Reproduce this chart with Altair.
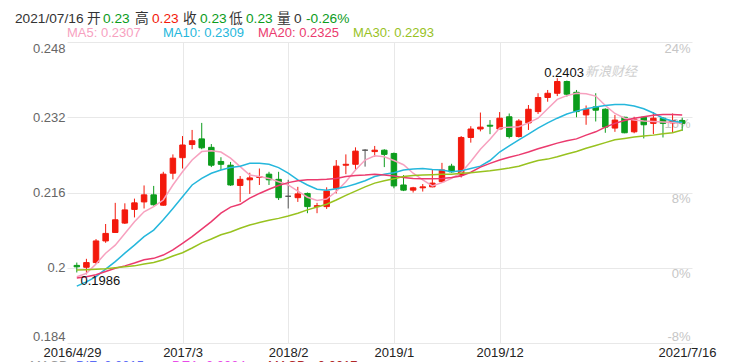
import altair as alt
import pandas as pd

# ---------------- data (monthly candles, 2016/4 .. 2021/7) ----------------
opens = [0.2005, 0.2001, 0.2011, 0.2057, 0.2075, 0.2095, 0.2124, 0.2140, 0.2155, 0.2133,
         0.2201, 0.2234, 0.2262, 0.2274, 0.2256, 0.2226, 0.2218, 0.2175, 0.2187, 0.2192,
         0.2199, 0.2188, 0.2152, 0.2149, 0.2158, 0.2130, 0.2130, 0.2169, 0.2218, 0.2220,
         0.2250, 0.2247, 0.2250, 0.2243, 0.2176, 0.2165, 0.2170, 0.2172, 0.2183, 0.2216,
         0.2197, 0.2277, 0.2295, 0.2303, 0.2295, 0.2321, 0.2279, 0.2308, 0.2332, 0.2362,
         0.2371, 0.2396, 0.2373, 0.2325, 0.2342, 0.2337, 0.2297, 0.2320, 0.2289, 0.2320,
         0.2307, 0.2318, 0.2308, 0.2313]
highs = [0.2011, 0.2019, 0.2061, 0.2093, 0.2138, 0.2137, 0.2147, 0.2175, 0.2174, 0.2204,
         0.2241, 0.2280, 0.2293, 0.2308, 0.2263, 0.2235, 0.2225, 0.2195, 0.2202, 0.2211,
         0.2204, 0.2204, 0.2187, 0.2172, 0.2160, 0.2138, 0.2171, 0.2229, 0.2241, 0.2256,
         0.2252, 0.2259, 0.2252, 0.2245, 0.2197, 0.2172, 0.2178, 0.2208, 0.2223, 0.2221,
         0.2280, 0.2301, 0.2330, 0.2314, 0.2331, 0.2328, 0.2316, 0.2346, 0.2371, 0.2378,
         0.2403, 0.2398, 0.2378, 0.2345, 0.2371, 0.2339, 0.2325, 0.2321, 0.2321, 0.2321,
         0.2331, 0.2320, 0.2328, 0.2319]
lows = [0.1990, 0.1986, 0.2008, 0.2053, 0.2075, 0.2093, 0.2107, 0.2126, 0.2132, 0.2132,
        0.2188, 0.2211, 0.2252, 0.2252, 0.2214, 0.2208, 0.2174, 0.2140, 0.2157, 0.2176,
        0.2176, 0.2144, 0.2126, 0.2140, 0.2116, 0.2116, 0.2125, 0.2158, 0.2199, 0.2208,
        0.2215, 0.2236, 0.2214, 0.2169, 0.2163, 0.2160, 0.2162, 0.2171, 0.2181, 0.2202,
        0.2192, 0.2266, 0.2290, 0.2284, 0.2295, 0.2275, 0.2277, 0.2293, 0.2327, 0.2353,
        0.2365, 0.2364, 0.2320, 0.2304, 0.2311, 0.2287, 0.2289, 0.2286, 0.2286, 0.2275,
        0.2284, 0.2277, 0.2287, 0.2291]
closes = [0.2002, 0.2011, 0.2057, 0.2073, 0.2102, 0.2123, 0.2138, 0.2155, 0.2134, 0.2199,
          0.2233, 0.2261, 0.2270, 0.2255, 0.2218, 0.2220, 0.2176, 0.2188, 0.2191, 0.2194,
          0.2187, 0.2149, 0.2152, 0.2157, 0.2130, 0.2132, 0.2163, 0.2216, 0.2220, 0.2248,
          0.2250, 0.2250, 0.2241, 0.2174, 0.2165, 0.2170, 0.2172, 0.2180, 0.2208, 0.2204,
          0.2277, 0.2295, 0.2299, 0.2301, 0.2318, 0.2279, 0.2312, 0.2337, 0.2362, 0.2371,
          0.2396, 0.2369, 0.2332, 0.2337, 0.2335, 0.2299, 0.2314, 0.2287, 0.2316, 0.2304,
          0.2318, 0.2307, 0.2313, 0.2307]
ma5 = [0.1981, 0.1988, 0.2008, 0.2031, 0.2048, 0.2073, 0.2098, 0.2119, 0.2130, 0.2144,
       0.2176, 0.2204, 0.2229, 0.2247, 0.2249, 0.2246, 0.2233, 0.2215, 0.2197, 0.2194,
       0.2190, 0.2183, 0.2176, 0.2163, 0.2150, 0.2143, 0.2146, 0.2162, 0.2183, 0.2208,
       0.2229, 0.2238, 0.2236, 0.2228, 0.2219, 0.2201, 0.2187, 0.2174, 0.2181, 0.2190,
       0.2202, 0.2226, 0.2252, 0.2273, 0.2297, 0.2299, 0.2300, 0.2308, 0.2318, 0.2338,
       0.2358, 0.2366, 0.2371, 0.2370, 0.2365, 0.2345, 0.2328, 0.2318, 0.2314, 0.2312,
       0.2311, 0.2310, 0.2309, 0.2307]
ma10 = [0.1961, 0.1970, 0.1981, 0.1997, 0.2013, 0.2031, 0.2048, 0.2066, 0.2080, 0.2102,
        0.2126, 0.2151, 0.2176, 0.2190, 0.2201, 0.2208, 0.2213, 0.2216, 0.2222, 0.2222,
        0.2220, 0.2213, 0.2201, 0.2187, 0.2176, 0.2167, 0.2165, 0.2168, 0.2172, 0.2178,
        0.2185, 0.2194, 0.2199, 0.2202, 0.2208, 0.2210, 0.2211, 0.2209, 0.2208, 0.2204,
        0.2206, 0.2211, 0.2216, 0.2228, 0.2246, 0.2259, 0.2272, 0.2284, 0.2297, 0.2308,
        0.2318, 0.2327, 0.2333, 0.2338, 0.2342, 0.2345, 0.2347, 0.2347, 0.2344, 0.2338,
        0.2329, 0.2318, 0.2312, 0.2309]
ma20 = [0.1978, 0.1981, 0.1985, 0.1992, 0.1999, 0.2004, 0.2010, 0.2017, 0.2020, 0.2027,
        0.2038, 0.2052, 0.2066, 0.2082, 0.2098, 0.2116, 0.2129, 0.2135, 0.2148, 0.2158,
        0.2167, 0.2175, 0.2181, 0.2185, 0.2187, 0.2187, 0.2188, 0.2190, 0.2194, 0.2196,
        0.2197, 0.2199, 0.2197, 0.2195, 0.2192, 0.2190, 0.2189, 0.2189, 0.2190, 0.2192,
        0.2195, 0.2203, 0.2214, 0.2222, 0.2229, 0.2235, 0.2240, 0.2246, 0.2253, 0.2259,
        0.2265, 0.2270, 0.2274, 0.2282, 0.2289, 0.2299, 0.2307, 0.2313, 0.2318, 0.2321,
        0.2324, 0.2326, 0.2326, 0.2325]
ma30 = [0.1995, 0.1996, 0.1997, 0.1998, 0.2000, 0.2002, 0.2004, 0.2008, 0.2011, 0.2017,
        0.2025, 0.2032, 0.2042, 0.2053, 0.2061, 0.2070, 0.2076, 0.2084, 0.2091, 0.2096,
        0.2101, 0.2105, 0.2110, 0.2116, 0.2123, 0.2129, 0.2135, 0.2144, 0.2154, 0.2163,
        0.2172, 0.2180, 0.2185, 0.2189, 0.2194, 0.2196, 0.2197, 0.2198, 0.2199, 0.2199,
        0.2201, 0.2202, 0.2204, 0.2206, 0.2209, 0.2212, 0.2216, 0.2222, 0.2228, 0.2231,
        0.2236, 0.2242, 0.2247, 0.2254, 0.2260, 0.2266, 0.2272, 0.2275, 0.2278, 0.2280,
        0.2282, 0.2285, 0.2287, 0.2293]

tick_idx = [0, 11, 22, 33, 44, 63]
tick_labels = ["2016/4/29", "2017/3", "2018/2", "2019/1", "2019/12", "2021/7/16"]
price_ticks = [0.184, 0.2, 0.216, 0.232, 0.248]
pct_ticks = [-8, 0, 8, 16, 24]
header_date = "2021/07/16"
volume = 0
macd_labels = ["MACD", "DIF: 0.0015", "DEA: 0.0024", "MACD: -0.0017"]
watermark = "新浪财经"

# ---------------- styles / layout ----------------
RED, GREEN, FLAT = "#f3190c", "#0c9c1c", "#555555"
MA_COLORS = {"MA5": "#f7a1bf", "MA10": "#25b7dc", "MA20": "#eb3a6e", "MA30": "#98c21f"}
FONT = "Liberation Sans, Arial, Noto Sans CJK SC"
W, H = 625, 301

n = len(closes)
df = pd.DataFrame({"idx": list(range(n)), "open": opens, "high": highs, "low": lows,
                   "close": closes, "MA5": ma5, "MA10": ma10, "MA20": ma20, "MA30": ma30})
df["lo_body"] = df[["open", "close"]].min(axis=1)
df["hi_body"] = df[["open", "close"]].max(axis=1)
df["dir"] = ["up" if c > o else ("down" if c < o else "flat") for o, c in zip(opens, closes)]

lo_edge, hi_edge = -0.5, n - 0.5
xs = alt.Scale(domain=[lo_edge, hi_edge], nice=False, zero=False)
ys = alt.Scale(domain=[price_ticks[0], price_ticks[-1]], nice=False, zero=False)
cs = alt.Scale(domain=["up", "down", "flat"], range=[RED, GREEN, FLAT])

# first / last date labels sit flush with the plot edges, as in the original
axis_vals = [lo_edge] + tick_idx[1:-1] + [hi_edge]
label_expr = " : ".join(f"datum.value == {v} ? '{t}'" for v, t in zip(axis_vals, tick_labels)) + " : ''"
x_axis = alt.Axis(values=axis_vals, labelExpr=label_expr, grid=True,
                  gridColor=alt.condition(f"datum.value == {lo_edge} || datum.value == {hi_edge}",
                                          alt.value("transparent"), alt.value("#e8e8e8")),
                  domain=False, ticks=False, labelFontSize=13, labelColor="#222", labelFont=FONT,
                  labelPadding=3, labelFlush=True, labelAngle=0,
                  labelOverlap=False, title=None)
y_axis = alt.Axis(values=price_ticks, format=".3~f", grid=True, gridColor="#e8e8e8",
                  domain=False, ticks=False, labelFontSize=13, labelColor="#666", labelFont=FONT,
                  labelPadding=2, labelFlush=True, title=None)


def X():
    return alt.X("idx:Q", scale=xs, axis=x_axis, title=None)


def Y(field):
    return alt.Y(f"{field}:Q", scale=ys, axis=y_axis, title=None)


base = alt.Chart(df)
wicks = base.mark_rule(strokeWidth=1).encode(
    x=X(), y=Y("low"), y2="high:Q",
    color=alt.Color("dir:N", scale=cs, legend=None),
)
bodies = base.mark_bar(size=5.5, strokeWidth=1).encode(
    x=X(), y=Y("lo_body"), y2="hi_body:Q",
    color=alt.Color("dir:N", scale=cs, legend=None),
    stroke=alt.Stroke("dir:N", scale=cs, legend=None),
)
ma_layers = [
    base.mark_line(color=col, strokeWidth=1.5).encode(x=X(), y=Y(name))
    for name, col in MA_COLORS.items()
]

hi_row = df.loc[[df["high"].idxmax()], ["idx", "high"]]
hi_row["t"] = hi_row["high"].map(lambda v: f"{v:.4f}")
lo_row = df.loc[[df["low"].idxmin()], ["idx", "low"]]
lo_row["t"] = lo_row["low"].map(lambda v: f"{v:.4f}")
hi_text = alt.Chart(hi_row).mark_text(align="left", baseline="alphabetic", dx=-13, dy=-1,
                                      fontSize=13, font=FONT, color="#111").encode(
    x=X(), y=Y("high"), text="t:N")
lo_text = alt.Chart(lo_row).mark_text(align="left", baseline="alphabetic", dx=-6, dy=11,
                                      fontSize=13, font=FONT, color="#111").encode(
    x=X(), y=Y("low"), text="t:N")

wm = alt.Chart(pd.DataFrame({"t": [watermark]})).mark_text(
    align="left", baseline="middle", fontSize=13, font=FONT, fontStyle="italic",
    color="#cfcfcf").encode(x=alt.value(518), y=alt.value(30), text="t:N")

price_layer = alt.layer(wicks, bodies, *ma_layers, hi_text, lo_text, wm)

pct_axis = alt.Axis(orient="right", values=pct_ticks, labelExpr="datum.value + '%'", grid=False,
                    domain=False, ticks=False, labelAlign="right", labelPadding=-2,
                    labelBaseline=alt.condition(f"datum.value == {pct_ticks[0]}",
                                                alt.value("bottom"), alt.value("top")),
                    labelFontSize=13, labelColor="#c6c6c6", labelFont=FONT, title=None)
pct_layer = alt.Chart(pd.DataFrame({"pct": pct_ticks})).mark_point(opacity=0).encode(
    y=alt.Y("pct:Q", scale=alt.Scale(domain=[pct_ticks[0], pct_ticks[-1]], nice=False, zero=False),
            axis=pct_axis))

# ---------------- header texts ----------------
last = df.iloc[-1]
prev_close = closes[-2]
chg = (closes[-1] / prev_close - 1) * 100
OX = 59  # plot-area left offset inside the svg
line1 = [
    (header_date, "#333", 7), ("开", "#333", 79), (f"{last.open:.2f}", GREEN, 95),
    ("高", "#333", 127), (f"{last.high:.2f}", RED, 144),
    ("收", "#333", 175), (f"{last.close:.2f}", GREEN, 192),
    ("低", "#333", 221), (f"{last.low:.2f}", GREEN, 238),
    ("量", "#333", 269), (f"{volume}", "#333", 286), (f"{chg:.2f}%", GREEN, 298),
]
line2 = [
    (f"MA5: {ma5[-1]:.4f}", MA_COLORS["MA5"], 59),
    (f"MA10: {ma10[-1]:.4f}", MA_COLORS["MA10"], 155),
    (f"MA20: {ma20[-1]:.4f}", MA_COLORS["MA20"], 250),
    (f"MA30: {ma30[-1]:.4f}", MA_COLORS["MA30"], 345),
]
macd_layout = [("#9a9a9a", 22), ("#5c6cf5", 68), ("#e84ae8", 164), ("#b02828", 260)]

text_layers = []
for t, col, x in line1:
    text_layers.append(alt.Chart(pd.DataFrame({"t": [t]})).mark_text(
        align="left", baseline="middle", fontSize=13.7, font=FONT, color=col).encode(
        x=alt.value(x - OX), y=alt.value(-23), text="t:N"))
for t, col, x in line2:
    text_layers.append(alt.Chart(pd.DataFrame({"t": [t]})).mark_text(
        align="left", baseline="middle", fontSize=13, font=FONT, color=col).encode(
        x=alt.value(x - OX), y=alt.value(-9), text="t:N"))
for t, (col, x) in zip(macd_labels, macd_layout):
    text_layers.append(alt.Chart(pd.DataFrame({"t": [t]})).mark_text(
        align="left", baseline="top", fontSize=13, font=FONT, color=col).encode(
        x=alt.value(x - OX), y=alt.value(318), text="t:N"))

chart = alt.layer(pct_layer, price_layer, *text_layers).resolve_scale(
    y="independent"
).properties(
    width=W, height=H,
    autosize=alt.AutoSizeParams(type="none"),
    padding={"left": 59, "top": 34, "right": 34, "bottom": 19},
    background="white",
).configure_view(stroke=None)

chart.save("out.html", embed_options={"renderer": "svg", "actions": False})
